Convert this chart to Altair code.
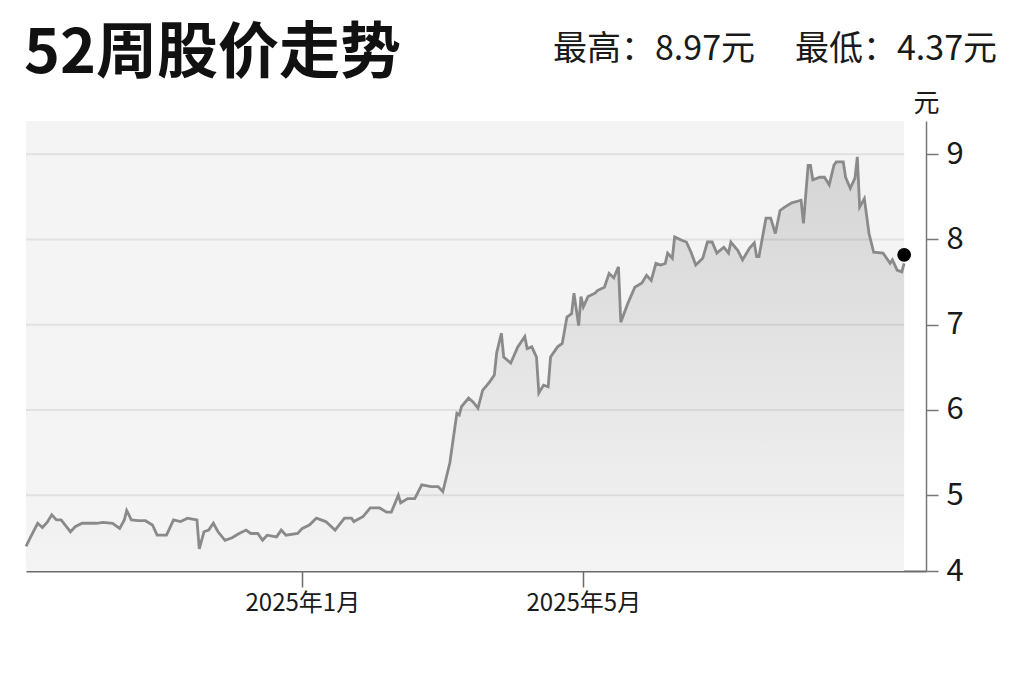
import pandas as pd
import altair as alt

# ---------- data ----------

dates = [
    "2024-09-05", "2024-09-07", "2024-09-10", "2024-09-12", "2024-09-14", "2024-09-16",
    "2024-09-18", "2024-09-20", "2024-09-24", "2024-09-26", "2024-09-29",
    "2024-10-02", "2024-10-05", "2024-10-08", "2024-10-12", "2024-10-15", "2024-10-17",
    "2024-10-18", "2024-10-20", "2024-10-23", "2024-10-26", "2024-10-29", "2024-10-31",
    "2024-11-04", "2024-11-07", "2024-11-10", "2024-11-13", "2024-11-15", "2024-11-17",
    "2024-11-18", "2024-11-20", "2024-11-22", "2024-11-24", "2024-11-26", "2024-11-29",
    "2024-12-02", "2024-12-05", "2024-12-08", "2024-12-10", "2024-12-13", "2024-12-15",
    "2024-12-17", "2024-12-21", "2024-12-23", "2024-12-25", "2024-12-30",
    "2025-01-01", "2025-01-04", "2025-01-07", "2025-01-11", "2025-01-15", "2025-01-19",
    "2025-01-22", "2025-01-23", "2025-01-27", "2025-01-30",
    "2025-02-03", "2025-02-06", "2025-02-08", "2025-02-11", "2025-02-12", "2025-02-15",
    "2025-02-18", "2025-02-21", "2025-02-25", "2025-02-28",
    "2025-03-02", "2025-03-05", "2025-03-08", "2025-03-09", "2025-03-10", "2025-03-13",
    "2025-03-15", "2025-03-17", "2025-03-19", "2025-03-22", "2025-03-24", "2025-03-25",
    "2025-03-27", "2025-03-28", "2025-03-31",
    "2025-04-03", "2025-04-06", "2025-04-07", "2025-04-09", "2025-04-11", "2025-04-12",
    "2025-04-14", "2025-04-16", "2025-04-17", "2025-04-20", "2025-04-22", "2025-04-24",
    "2025-04-26", "2025-04-27", "2025-04-29", "2025-04-30",
    "2025-05-01", "2025-05-03", "2025-05-06", "2025-05-07", "2025-05-10", "2025-05-12",
    "2025-05-14", "2025-05-16", "2025-05-17", "2025-05-20", "2025-05-23", "2025-05-26",
    "2025-05-28", "2025-05-30",
    "2025-06-01", "2025-06-03", "2025-06-05", "2025-06-06", "2025-06-08", "2025-06-09",
    "2025-06-12", "2025-06-14", "2025-06-16", "2025-06-18", "2025-06-21", "2025-06-23",
    "2025-06-25", "2025-06-27", "2025-06-30",
    "2025-07-02", "2025-07-03", "2025-07-06", "2025-07-08", "2025-07-11", "2025-07-13",
    "2025-07-14", "2025-07-15", "2025-07-18", "2025-07-20", "2025-07-22", "2025-07-24",
    "2025-07-26", "2025-07-29",
    "2025-08-02", "2025-08-03", "2025-08-05", "2025-08-06", "2025-08-07", "2025-08-10",
    "2025-08-12", "2025-08-14", "2025-08-16", "2025-08-17", "2025-08-20", "2025-08-21",
    "2025-08-23", "2025-08-25", "2025-08-26", "2025-08-27", "2025-08-29", "2025-08-31",
    "2025-09-02", "2025-09-06", "2025-09-09", "2025-09-10", "2025-09-12", "2025-09-14",
    "2025-09-15",
]

prices = [
    4.40, 4.51, 4.67, 4.62, 4.68, 4.77, 4.71, 4.71, 4.57, 4.63, 4.67,
    4.67, 4.67, 4.68, 4.67, 4.61, 4.71, 4.82, 4.71, 4.70, 4.70, 4.65, 4.53,
    4.53, 4.71, 4.69, 4.73, 4.72, 4.71, 4.37, 4.57, 4.59, 4.67, 4.57, 4.47,
    4.50, 4.55, 4.59, 4.55, 4.55, 4.47, 4.53, 4.51, 4.59, 4.53, 4.55,
    4.61, 4.65, 4.73, 4.69, 4.59, 4.73, 4.73, 4.69, 4.75, 4.85,
    4.85, 4.80, 4.80, 5.00, 4.91, 4.96, 4.96, 5.12, 5.10, 5.10,
    5.04, 5.38, 5.96, 5.94, 6.04, 6.14, 6.09, 6.02, 6.23, 6.33, 6.41, 6.67, 6.90, 6.62, 6.55,
    6.74, 6.86, 6.72, 6.74, 6.62, 6.20, 6.29, 6.27, 6.62, 6.74, 6.78, 7.09, 7.13, 7.37, 6.99, 7.33,
    7.21, 7.33, 7.37, 7.40, 7.44, 7.60, 7.55, 7.68, 7.03, 7.25, 7.44, 7.49, 7.58, 7.52,
    7.72, 7.70, 7.72, 7.84, 7.78, 8.03, 7.99, 7.97, 7.85, 7.70, 7.78, 7.97, 7.97, 7.84, 7.91,
    7.84, 7.97, 7.87, 7.76, 7.90, 7.96, 7.80, 7.80, 8.25, 8.25, 8.07, 8.34, 8.38, 8.43,
    8.46, 8.19, 8.87, 8.87, 8.70, 8.73, 8.73, 8.64, 8.87, 8.91, 8.91, 8.73, 8.60, 8.72,
    8.97, 8.38, 8.48, 8.07,
    7.85, 7.84, 7.72, 7.76, 7.64, 7.62, 7.72,
]

last_price = 7.82
grid_values = [5, 6, 7, 8, 9]
y_ticks = [4.11, 5, 6, 7, 8, 9]
y_min, y_max = 4.11, 9.39

title_text = "52周股价走势"
high_text = "最高：8.97元"
low_text = "最低：4.37元"

FONT = "Noto Sans CJK SC"
W, H = 900, 450

# ---------- frames ----------

df = pd.DataFrame({"date": dates, "price": prices})
df["bottom"] = y_min

span = pd.DataFrame({"start": [dates[0]], "end": [dates[-1]], "top": [y_max], "bottom": [y_min]})
grid = pd.DataFrame({"v": grid_values, "start": dates[0], "end": dates[-1]})
dot = pd.DataFrame({"date": [dates[-1]], "price": [last_price]})

x_scale = alt.Scale(
    type="utc",
    domain=[
        alt.DateTime(year=2024, month=9, date=5, utc=True),
        alt.DateTime(year=2025, month=9, date=24, hours=8, utc=True),
    ],
)
y_scale = alt.Scale(domain=[y_min, y_max], zero=False, nice=False)

x_axis = alt.Axis(
    values=[
        alt.DateTime(year=2025, month=1, date=1, utc=True),
        alt.DateTime(year=2025, month=5, date=1, utc=True),
    ],
    format="%Y年%-m月",
    title=None,
    grid=False,
    labelFont=FONT,
    labelFontSize=24,
    labelColor="#1a1a1a",
    labelPadding=4,
    labelFlush=False,
    tickSize=16,
    tickColor="#6b6b6b",
    tickWidth=1.5,
    domainColor="#6b6b6b",
    domainWidth=2,
)

# the bottom tick sits on the axis line and reads "4"
y_axis = alt.Axis(
    orient="right",
    values=y_ticks,
    labelExpr="datum.value < 4.5 ? '4' : format(datum.value, 'd')",
    grid=False,
    labelFont=FONT,
    labelFontSize=31,
    labelColor="#1a1a1a",
    labelPadding=8,
    tickSize=12,
    tickColor="#777777",
    tickWidth=1.5,
    domainColor="#777777",
    domainWidth=1.5,
    title="元",
    titleFont=FONT,
    titleFontSize=26,
    titleFontWeight="normal",
    titleColor="#1a1a1a",
    titleAngle=0,
    titleAlign="center",
    titleBaseline="middle",
    titleX=0,
    titleY=-18,
)

# ---------- layers ----------

bg = alt.Chart(span).mark_rect(color="#f4f4f4").encode(
    x=alt.X("start:T", scale=x_scale, axis=x_axis),
    x2="end:T",
    y=alt.Y("top:Q", scale=y_scale, axis=y_axis),
    y2="bottom:Q",
)

rules = alt.Chart(grid).mark_rule(color="#e1e1e1", strokeWidth=2).encode(
    x=alt.X("start:T", scale=x_scale),
    x2="end:T",
    y=alt.Y("v:Q", scale=y_scale),
)

fill = alt.Gradient(
    gradient="linear",
    stops=[
        alt.GradientStop(color="rgba(0,0,0,0.13)", offset=0),
        alt.GradientStop(color="rgba(0,0,0,0)", offset=1),
    ],
    x1=1, x2=1, y1=0, y2=1,
)

area = alt.Chart(df).mark_area(color=fill).encode(
    x=alt.X("date:T", scale=x_scale),
    y=alt.Y("price:Q", scale=y_scale),
    y2="bottom:Q",
)

line = alt.Chart(df).mark_line(color="#8a8a8a", strokeWidth=2.8).encode(
    x=alt.X("date:T", scale=x_scale),
    y=alt.Y("price:Q", scale=y_scale),
)

point = alt.Chart(dot).mark_circle(color="#000000", size=190, opacity=1).encode(
    x=alt.X("date:T", scale=x_scale),
    y=alt.Y("price:Q", scale=y_scale),
)

title = alt.Chart(pd.DataFrame({"t": [title_text]})).mark_text(
    font=FONT, fontSize=61, fontWeight="bold", color="#111111",
    align="left", baseline="middle",
).encode(text="t:N", x=alt.value(-2), y=alt.value(-66))

high = alt.Chart(pd.DataFrame({"t": [high_text]})).mark_text(
    font=FONT, fontSize=34, color="#1a1a1a", align="right", baseline="middle",
).encode(text="t:N", x=alt.value(729), y=alt.value(-71))

low = alt.Chart(pd.DataFrame({"t": [low_text]})).mark_text(
    font=FONT, fontSize=34, color="#1a1a1a", align="right", baseline="middle",
).encode(text="t:N", x=alt.value(971), y=alt.value(-71))

chart = (
    alt.layer(bg, rules, area, line, point, title, high, low)
    .properties(
        width=W,
        height=H,
        autosize="none",
        padding={"left": 18, "top": 113, "right": 90, "bottom": 90},
        background="#ffffff",
    )
    .configure_view(stroke=None)
)

chart.save("out.html", embed_options={"renderer": "svg", "actions": False})
